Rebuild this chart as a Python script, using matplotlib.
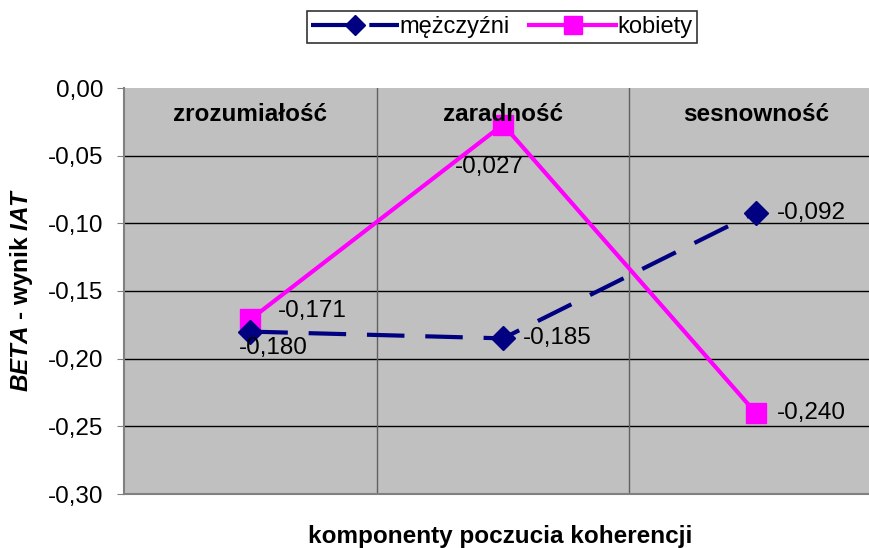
import matplotlib
matplotlib.use("Agg")
import matplotlib.pyplot as plt
from matplotlib.ticker import FuncFormatter

plt.rcParams['font.family'] = ['Liberation Sans', 'DejaVu Sans']
plt.rcParams['mathtext.fontset'] = 'custom'
plt.rcParams['mathtext.rm'] = 'Liberation Sans:bold'
plt.rcParams['mathtext.bf'] = 'Liberation Sans:bold'
plt.rcParams['mathtext.it'] = 'Liberation Sans:italic:bold'
plt.rcParams['mathtext.bfit'] = 'Liberation Sans:italic:bold'

categories = ["zrozumiałość", "zaradność", "sesnowność"]
men = [-0.180, -0.185, -0.092]
women = [-0.171, -0.027, -0.240]
men_label = "mężczyźni"
women_label = "kobiety"
y_ticks = [0.0, -0.05, -0.10, -0.15, -0.20, -0.25, -0.30]

W, H = 870, 548
fig = plt.figure(figsize=(W / 100, H / 100), dpi=100)
left, right, top, bottom = 124, 882, 88, 494
ax = fig.add_axes([left / W, 1 - bottom / H, (right - left) / W, (bottom - top) / H])
ax.set_facecolor('#c0c0c0')

x = [0.5, 1.5, 2.5]
ax.plot(x, men, color='#000080', lw=3.0, dashes=(9, 5), marker='D', ms=12,
        markeredgecolor='#000080', markerfacecolor='#000080', label=men_label, zorder=4)
ax.plot(x, women, color='#ff00ff', lw=3.0, marker='s', ms=15,
        markeredgecolor='#ff00ff', markerfacecolor='#ff00ff', label=women_label, zorder=3)

ax.set_xlim(0, 3)
ax.set_ylim(-0.30, 0.0)
ax.set_yticks(y_ticks)
ax.yaxis.set_major_formatter(FuncFormatter(lambda v, p: f"{v:.2f}".replace('.', ',').replace('-0,00', '0,00')))
ax.set_xticks([])
ax.tick_params(axis='y', labelsize=17.5, length=5, color='#808080', direction='out', pad=10)
for v in y_ticks[1:-1]:
    ax.axhline(v, color='black', lw=1, zorder=1)
for v in [1, 2]:
    ax.axvline(v, color='#606060', lw=1, zorder=1)
for s in ['top', 'right', 'bottom']:
    ax.spines[s].set_visible(False)
ax.spines['left'].set_color('#808080')
ax.spines['left'].set_linewidth(1.5)
ax.axhline(-0.30, color='#808080', lw=1.5, zorder=2, clip_on=False)

for xi, c in zip(x, categories):
    ax.text(xi, -0.0195, c, ha='center', va='center', fontsize=17.5, fontweight='bold')

def fmt(v):
    return f"{v:.3f}".replace('.', ',')

fs = 17.5
ax.annotate(fmt(men[0]), (x[0], men[0]), xytext=(-8, -4), textcoords='offset points', ha='left', va='top', fontsize=fs, zorder=5)
ax.annotate(fmt(women[0]), (x[0], women[0]), xytext=(20, 1.5), textcoords='offset points', ha='left', va='baseline', fontsize=fs, zorder=5)
ax.annotate(fmt(women[1]), (x[1], women[1]), xytext=(-35, -23), textcoords='offset points', ha='left', va='top', fontsize=fs, zorder=5)
ax.annotate(fmt(men[1]), (x[1], men[1]), xytext=(14, 0), textcoords='offset points', ha='left', va='center', fontsize=fs, zorder=5)
ax.annotate(fmt(men[2]), (x[2], men[2]), xytext=(15, 0), textcoords='offset points', ha='left', va='center', fontsize=fs, zorder=5)
ax.annotate(fmt(women[2]), (x[2], women[2]), xytext=(15, 0), textcoords='offset points', ha='left', va='center', fontsize=fs, zorder=5)

fig.text(22 / W, 1 - 290 / H, r"$\mathbfit{BETA}$ - wynik $\mathbfit{IAT}$", rotation=90,
         ha='center', va='center', fontsize=17.5, fontweight='bold')
fig.text(500 / W, 1 - 537 / H, "komponenty poczucia koherencji", ha='center', va='center',
         fontsize=17.5, fontweight='bold')

leg = fig.legend(loc='center', bbox_to_anchor=(502 / W, 1 - 27 / H), ncol=2, fontsize=17,
                 frameon=True, fancybox=False, edgecolor='black', handlelength=3.7,
                 handletextpad=0.05, columnspacing=0.8, borderpad=0.2, markerscale=0.85)
leg.get_frame().set_linewidth(1.2)

fig.savefig("out.png", dpi=100)
